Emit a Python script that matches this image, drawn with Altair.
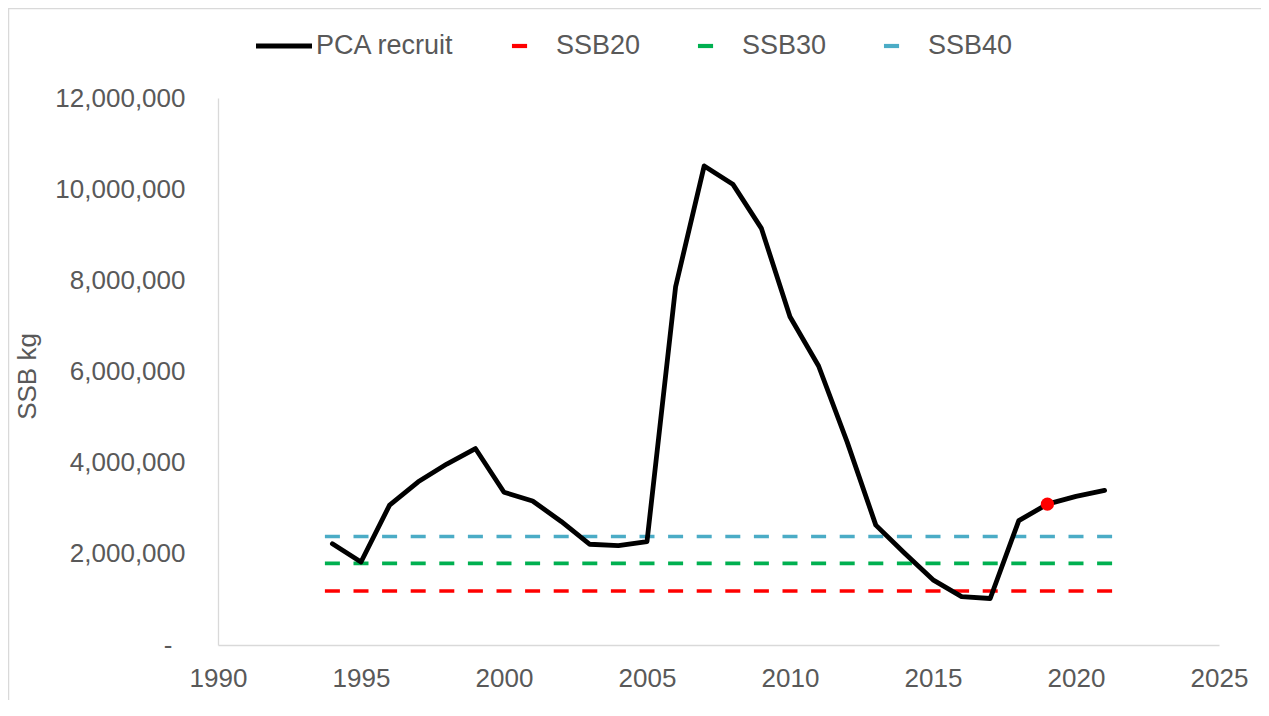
import altair as alt
import pandas as pd

# ---- data ----
years = list(range(1994, 2022))
pca_recruit = [2.22e6, 1.82e6, 3.07e6, 3.58e6, 3.97e6, 4.31e6, 3.35e6, 3.16e6,
               2.71e6, 2.21e6, 2.18e6, 2.27e6, 7.86e6, 10.51e6, 10.11e6, 9.14e6,
               7.20e6, 6.12e6, 4.45e6, 2.63e6, 2.02e6, 1.43e6, 1.06e6, 1.02e6,
               2.73e6, 3.09e6, 3.26e6, 3.39e6]
ref_names = ["SSB20", "SSB30", "SSB40"]
ref_values = [1.185e6, 1.79e6, 2.38e6]
ref_start = [1994, 1994, 1994]
ref_end = [2021, 2021, 2021]
highlight_year = 2019
series_names = ["PCA recruit", "SSB20", "SSB30", "SSB40"]
series_colors = ["#000000", "#FF0000", "#00B050", "#4BACC6"]
x_ticks = [1990, 1995, 2000, 2005, 2010, 2015, 2020, 2025]
y_ticks = [0, 2e6, 4e6, 6e6, 8e6, 10e6, 12e6]

FONT = "Liberation Sans"
TXT = "#595959"
AXC = "#D9D9D9"

pca_df = pd.DataFrame({"year": years, "value": pca_recruit,
                       "series": ["PCA recruit"] * len(years)})
ref_df = pd.DataFrame({"series": ref_names, "value": ref_values,
                       "start": ref_start, "end": ref_end})
hl_df = pca_df[pca_df["year"] == highlight_year]
leg_df = pd.DataFrame({"series": series_names})

xscale = alt.Scale(domain=[1990, 2025], nice=False, zero=False)
yscale = alt.Scale(domain=[0, 12e6], nice=False)
cscale = alt.Scale(domain=series_names, range=series_colors)
line_path = "M-1,-0.085H1V0.085H-1Z"
dash_path = "M-0.43,-0.075H0.11V0.075H-0.43Z"
sscale = alt.Scale(domain=series_names, range=[line_path, dash_path, dash_path, dash_path])

xaxis = alt.Axis(values=x_ticks, format="d", grid=False, ticks=False,
                 domainColor=AXC, domainWidth=1.3, labelPadding=20,
                 labelFont=FONT, labelFontSize=26, labelColor=TXT,
                 labelFlush=False, labelOverlap=False, title=None)
yaxis = alt.Axis(values=y_ticks, grid=False, ticks=False,
                 domainColor=AXC, domainWidth=1.3,
                 labelPadding={"condition": {"test": "datum.value == 0", "value": 46}, "value": 33},
                 labelFont=FONT, labelFontSize=26, labelColor=TXT,
                 labelFlush=False, labelOverlap=False,
                 labelExpr="datum.value == 0 ? '-' : format(datum.value, ',')",
                 title="SSB kg", titleFont=FONT, titleFontSize=26,
                 titleFontWeight="normal", titleColor=TXT,
                 titleX=-183, titleY=278, titleAngle=270,
                 titleBaseline="alphabetic", titleAlign="center")

legend = alt.Legend(title=None, orient="none", legendX=38, legendY=-80,
                    direction="horizontal", columns=4, symbolSize=3136,
                    symbolOpacity=1, symbolStrokeWidth=0, padding=0,
                    labelFont=FONT, labelFontSize=27, labelColor=TXT,
                    labelOffset=4, columnPadding=41,
                    labelExpr="datum.label == 'PCA recruit' ? datum.label : '\u00a0' + datum.label + '\u00a0'")

border = alt.Chart(alt.Data(values=[{}])).mark_rect(
    fillOpacity=0, stroke=AXC, strokeWidth=1.5
).encode(x=alt.value(-209.5), x2=alt.value(5000), y=alt.value(-89.5), y2=alt.value(5000))

ref_layers = []
for name, col in zip(ref_names, series_colors[1:]):
    ref_layers.append(
        alt.Chart(ref_df).transform_filter(alt.datum.series == name).mark_rule(
            strokeWidth=3.6, strokeDash=[15, 13.6], xOffset=-7.5, x2Offset=7.5, color=col
        ).encode(
            x=alt.X("start:Q", scale=xscale, axis=xaxis),
            x2="end:Q",
            y=alt.Y("value:Q", scale=yscale, axis=yaxis),
        )
    )

pca = alt.Chart(pca_df).mark_line(
    strokeWidth=4.8, strokeJoin="round", strokeCap="round", color=series_colors[0]
).encode(
    x=alt.X("year:Q", scale=xscale, axis=xaxis),
    y=alt.Y("value:Q", scale=yscale, axis=yaxis),
)

dot = alt.Chart(hl_df).mark_circle(size=175, color="#FF0000", opacity=1).encode(
    x=alt.X("year:Q", scale=xscale),
    y=alt.Y("value:Q", scale=yscale),
)

leg = alt.Chart(leg_df).mark_point(filled=True, opacity=0, size=3136).encode(
    x=alt.value(0), y=alt.value(0),
    color=alt.Color("series:N", scale=cscale, legend=legend),
    shape=alt.Shape("series:N", scale=sscale, legend=legend),
)

chart = alt.layer(border, *ref_layers, pca, dot, leg).properties(
    width=1001, height=547,
    padding={"left": 210, "top": 90, "right": 42, "bottom": 55},
    autosize=alt.AutoSizeParams(type="none"),
    background="white",
).configure_view(stroke=None)

chart.save("out.html", embed_options={"renderer": "svg", "actions": False})
